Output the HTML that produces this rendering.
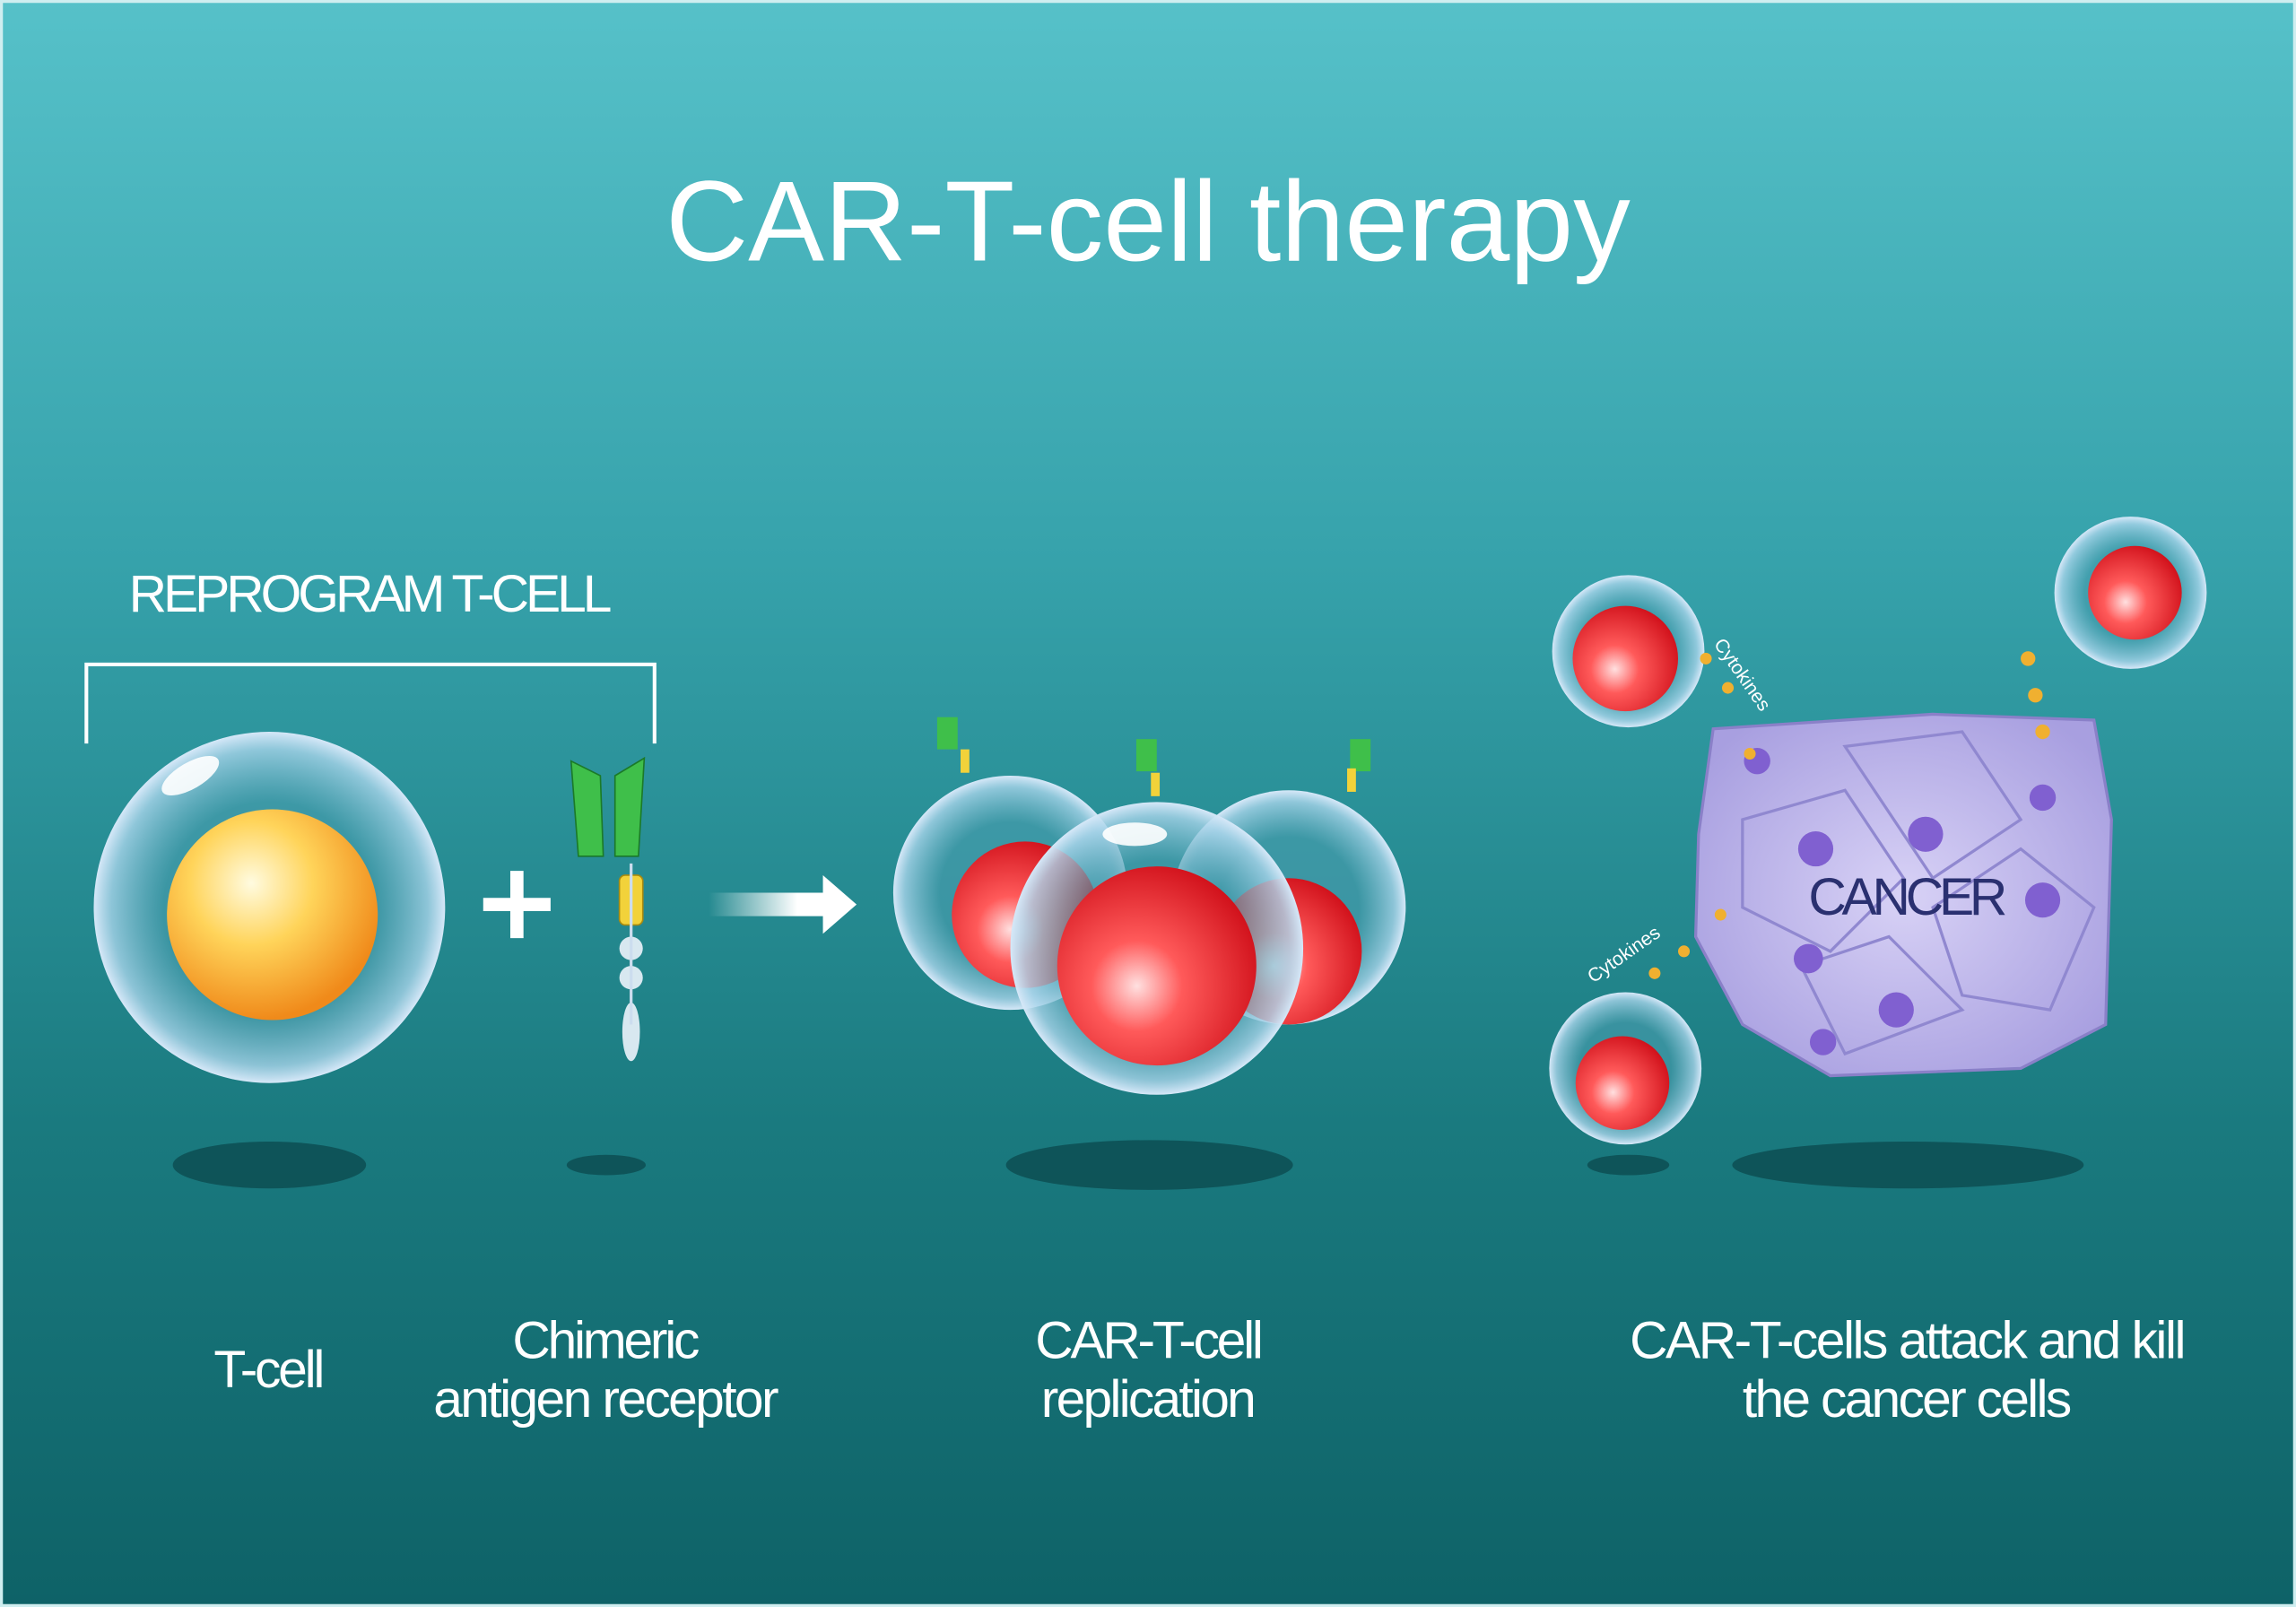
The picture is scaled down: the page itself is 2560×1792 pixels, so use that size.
<!DOCTYPE html>
<html><head><meta charset="utf-8"><style>
html,body{margin:0;padding:0;width:2560px;height:1792px;overflow:hidden;background:#1a7478}
svg{display:block}
text{font-family:"Liberation Sans Narrow","Liberation Sans",sans-serif;fill:#fff}
</style></head><body>
<svg width="2560" height="1792" viewBox="0 0 1568 1098" preserveAspectRatio="none" xmlns="http://www.w3.org/2000/svg">
<defs>
<linearGradient id="bg" x1="0" y1="0" x2="0" y2="1">
<stop offset="0" stop-color="#56c1c9"/><stop offset="0.35" stop-color="#36a2ab"/><stop offset="0.7" stop-color="#1a7a7f"/><stop offset="1" stop-color="#0e6267"/></linearGradient>
<radialGradient id="mem" cx="0.5" cy="0.5" r="0.5">
<stop offset="0.6" stop-color="#4a9eb0" stop-opacity="0.6"/><stop offset="0.9" stop-color="#a8d4ea" stop-opacity="0.8"/><stop offset="1" stop-color="#d6e8f8"/></radialGradient>
<radialGradient id="nuc" cx="0.4" cy="0.35" r="0.65">
<stop offset="0" stop-color="#fffbe0"/><stop offset="0.45" stop-color="#ffd45a"/><stop offset="1" stop-color="#f08a1a"/></radialGradient>
<radialGradient id="red" cx="0.4" cy="0.6" r="0.65">
<stop offset="0" stop-color="#ffe0e0"/><stop offset="0.35" stop-color="#ff5a5a"/><stop offset="1" stop-color="#d0101a"/></radialGradient>
<linearGradient id="arr" x1="0" x2="1"><stop offset="0" stop-color="#fff" stop-opacity="0"/><stop offset="0.6" stop-color="#fff"/></linearGradient>
<radialGradient id="canc" cx="0.5" cy="0.5" r="0.6"><stop offset="0" stop-color="#d8d2f6"/><stop offset="1" stop-color="#a89fe0"/></radialGradient>
</defs>
<rect width="1568" height="1098" fill="url(#bg)"/>
<rect x="1" y="1" width="1566" height="1096" fill="none" stroke="#cfeef0" stroke-width="2"/>
<text x="784" y="178" font-size="78" text-anchor="middle" font-family="Liberation Sans">CAR-T-cell therapy</text>
<text x="88" y="418" font-size="36" textLength="330">REPROGRAM T-CELL</text>
<path d="M59 508 V454 H447 V508" fill="none" stroke="#fff" stroke-width="2.5"/>
<g fill="#0d4d52" opacity="0.85">
<ellipse cx="184" cy="796" rx="66" ry="16"/><ellipse cx="414" cy="796" rx="27" ry="7"/>
<ellipse cx="785" cy="796" rx="98" ry="17"/><ellipse cx="1112" cy="796" rx="28" ry="7"/>
<ellipse cx="1303" cy="796" rx="120" ry="16"/></g>
<circle cx="184" cy="620" r="120" fill="url(#mem)"/>
<circle cx="186" cy="625" r="72" fill="url(#nuc)"/>
<ellipse cx="130" cy="530" rx="22" ry="9" fill="#fff" opacity="0.9" transform="rotate(-30 130 530)"/>
<path d="M330 618 H376 M353 595 V641" stroke="#fff" stroke-width="9"/>
<path d="M390 520 L410 530 L412 585 L395 585 Z M420 530 L440 518 L436 585 L420 585 Z" fill="#3fbf4a" stroke="#1b7a28"/>
<rect x="423" y="598" width="16" height="34" rx="4" fill="#f2d23a" stroke="#a88a10"/>
<circle cx="431" cy="648" r="8" fill="#d8e8f0"/><circle cx="431" cy="668" r="8" fill="#d8e8f0"/>
<ellipse cx="431" cy="705" rx="6" ry="20" fill="#d8e8f0"/>
<path d="M431 590 V700" stroke="#cde" stroke-width="2"/>
<path d="M484 610 H562 V598 L585 618 L562 638 V626 H484 Z" fill="url(#arr)"/>
<circle cx="690" cy="610" r="80" fill="url(#mem)"/><circle cx="700" cy="625" r="50" fill="url(#red)"/>
<circle cx="880" cy="620" r="80" fill="url(#mem)"/><circle cx="880" cy="650" r="50" fill="url(#red)"/>
<circle cx="790" cy="648" r="100" fill="url(#mem)"/><circle cx="790" cy="660" r="68" fill="url(#red)"/>
<ellipse cx="775" cy="570" rx="22" ry="8" fill="#fff" opacity="0.9"/>
<g fill="#3fbf4a"><rect x="640" y="490" width="14" height="22"/><rect x="776" y="505" width="14" height="22"/><rect x="922" y="505" width="14" height="22"/></g>
<g fill="#f2d23a"><rect x="656" y="512" width="6" height="16"/><rect x="786" y="528" width="6" height="16"/><rect x="920" y="525" width="6" height="16"/></g>
<path d="M1170 498 L1320 488 L1430 492 L1442 560 L1438 700 L1380 730 L1250 735 L1190 700 L1158 640 L1160 570 Z" fill="url(#canc)" stroke="#8a80c8" stroke-width="2"/>
<g fill="none" stroke="#9088d0" stroke-width="2"><path d="M1190 560 L1260 540 L1300 600 L1250 650 L1190 620 Z"/><path d="M1260 510 L1340 500 L1380 560 L1320 600 Z"/><path d="M1320 620 L1380 580 L1430 620 L1400 690 L1340 680 Z"/><path d="M1230 660 L1290 640 L1340 690 L1260 720 Z"/></g>
<g fill="#8060d0"><circle cx="1240" cy="580" r="12"/><circle cx="1315" cy="570" r="12"/><circle cx="1395" cy="615" r="12"/><circle cx="1235" cy="655" r="10"/><circle cx="1295" cy="690" r="12"/><circle cx="1245" cy="712" r="9"/><circle cx="1395" cy="545" r="9"/><circle cx="1200" cy="520" r="9"/></g>
<text x="1303" y="625" font-size="36" text-anchor="middle" textLength="136" style="fill:#2a3070">CANCER</text>
<circle cx="1112" cy="445" r="52" fill="url(#mem)"/><circle cx="1110" cy="450" r="36" fill="url(#red)"/>
<circle cx="1455" cy="405" r="52" fill="url(#mem)"/><circle cx="1458" cy="405" r="32" fill="url(#red)"/>
<circle cx="1110" cy="730" r="52" fill="url(#mem)"/><circle cx="1108" cy="740" r="32" fill="url(#red)"/>
<g fill="#f0b030"><circle cx="1165" cy="450" r="4"/><circle cx="1180" cy="470" r="4"/><circle cx="1195" cy="515" r="4"/><circle cx="1385" cy="450" r="5"/><circle cx="1390" cy="475" r="5"/><circle cx="1395" cy="500" r="5"/><circle cx="1150" cy="650" r="4"/><circle cx="1130" cy="665" r="4"/><circle cx="1175" cy="625" r="4"/></g>
<text x="1170" y="440" font-size="13" transform="rotate(55 1170 440)">Cytokines</text>
<text x="1088" y="672" font-size="13" transform="rotate(-35 1088 672)">Cytokines</text>
<text x="146" y="948" font-size="36" textLength="76">T-cell</text>
<text x="350" y="928" font-size="36" textLength="128">Chimeric</text>
<text x="296" y="968" font-size="36" textLength="236">antigen receptor</text>
<text x="707" y="928" font-size="36" textLength="156">CAR-T-cell</text>
<text x="711" y="968" font-size="36" textLength="147">replication</text>
<text x="1113" y="928" font-size="36" textLength="380">CAR-T-cells attack and kill</text>
<text x="1190" y="968" font-size="36" textLength="225">the cancer cells</text>
</svg>
</body></html>
